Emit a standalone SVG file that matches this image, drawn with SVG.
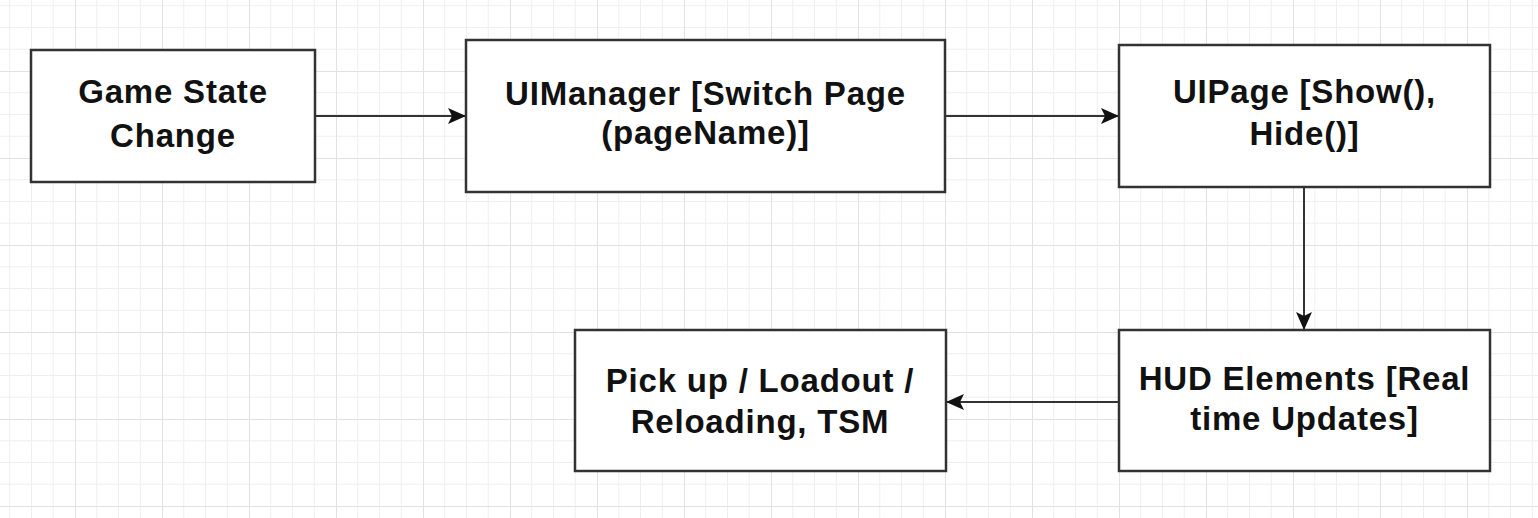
<svg xmlns="http://www.w3.org/2000/svg" width="1538" height="518" viewBox="0 0 1538 518">
<style>
.box{fill:#ffffff;stroke:#333333;stroke-width:2.5}
.lbl{font-family:"Liberation Sans",Arial,Helvetica,sans-serif;font-weight:bold;font-size:33px;letter-spacing:0.8px;fill:#111111;text-anchor:middle}
.conn{fill:none;stroke:#333333;stroke-width:2}
</style>
<defs>
<pattern id="grid" x="75" y="71" width="87" height="87" patternUnits="userSpaceOnUse">
<path d="M21.75 0V87M43.5 0V87M65.25 0V87M0 21.75H87M0 43.5H87M0 65.25H87" stroke="#efefef" stroke-width="1" fill="none"/>
<path d="M0.5 0V87M0 0.5H87" stroke="#e2e2e2" stroke-width="1" fill="none"/>
</pattern>
<marker id="arr" viewBox="0 0 18 16" refX="17" refY="8" markerWidth="18" markerHeight="16" markerUnits="userSpaceOnUse" orient="auto">
<path d="M0 0L18 8L0 16L4 8Z" fill="#111111"/>
</marker>
</defs>
<rect width="1538" height="518" fill="#ffffff"/>
<rect width="1538" height="518" fill="url(#grid)"/>
<g id="connectors">
<path class="conn" d="M315 116H465" marker-end="url(#arr)"/>
<path class="conn" d="M945 116H1118" marker-end="url(#arr)"/>
<path class="conn" d="M1304 187V329" marker-end="url(#arr)"/>
<path class="conn" d="M1119 402H947" marker-end="url(#arr)"/>
</g>
<g id="game-state-change">
<rect class="box" x="31" y="50" width="284" height="132"/>
<text class="lbl" x="173" y="103">Game State</text>
<text class="lbl" x="173" y="147">Change</text>
</g>
<g id="uimanager">
<rect class="box" x="466" y="40" width="479" height="152"/>
<text class="lbl" x="705.5" y="105">UIManager [Switch Page</text>
<text class="lbl" x="705.5" y="144">(pageName)]</text>
</g>
<g id="uipage">
<rect class="box" x="1119" y="45" width="371" height="142"/>
<text class="lbl" x="1304.5" y="103">UIPage [Show(),</text>
<text class="lbl" x="1304.5" y="145">Hide()]</text>
</g>
<g id="hud-elements">
<rect class="box" x="1119" y="330" width="371" height="141"/>
<text class="lbl" x="1304.5" y="390">HUD Elements [Real</text>
<text class="lbl" x="1304.5" y="430">time Updates]</text>
</g>
<g id="pickup-loadout">
<rect class="box" x="575" y="330" width="371" height="141"/>
<text class="lbl" x="760" y="392">Pick up / Loadout /</text>
<text class="lbl" x="760" y="433">Reloading, TSM</text>
</g>
</svg>
